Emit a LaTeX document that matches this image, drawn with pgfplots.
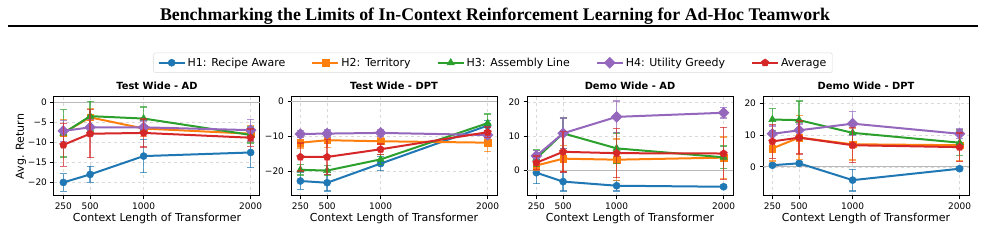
\documentclass[border=0pt]{standalone}
\usepackage{pgfplots}
\pgfplotsset{compat=1.18}
\usepackage{pgfplotstable}
\usepackage{fontspec}
\setmainfont{DejaVu Sans}
\newfontfamily\titlefont{Liberation Serif}

\definecolor{cH1}{HTML}{1F77B4}
\definecolor{cH2}{HTML}{FF7F0E}
\definecolor{cH3}{HTML}{2CA02C}
\definecolor{cH4}{HTML}{9467BD}
\definecolor{cAv}{HTML}{D62728}

% columns: context length, mean and error for each heuristic partner, then the average
\pgfplotstableread{
x    h1    e1   h2   e2   h3   e3   h4   e4   av    ea
250  -20.0 2.2 -7.6  3.4 -7.7  5.9 -7.1  2.6 -10.6  5.4
500  -18.0 2.0 -3.7  2.3 -3.4  3.7 -6.2  2.0  -7.8  6.0
1000 -13.4 4.2 -6.5  2.0 -4.0  2.9 -6.2  1.6  -7.6  3.5
2000 -12.5 3.8 -7.8  2.0 -8.1  2.0 -6.9  2.7  -8.8  2.2
}\testAD
\pgfplotstableread{
x    h1    e1   h2    e2   h3    e3   h4   e4   av    ea
250  -22.8 2.5 -11.8  1.5 -19.6  1.5 -9.3  1.0 -15.9  4.0
500  -23.3 2.4 -11.1  2.0 -19.8  1.5 -9.2  1.0 -15.9  5.0
1000 -17.8 2.0 -11.4  1.0 -16.6  1.5 -9.0  1.0 -13.7  1.5
2000  -6.9 1.5 -11.8  2.6  -6.2  2.6 -9.6  1.0  -8.8  1.5
}\testDPT
\pgfplotstableread{
x    h1   e1  h2  e2  h3   e3  h4   e4  av  ea
250  -0.7 3.2 1.4 1.5  3.5 2.4  4.2 1.5 2.2 2.0
500  -3.3 2.7 3.4 3.8 10.8 4.5 10.8 4.5 5.4 5.9
1000 -4.5 1.5 3.1 6.0  6.4 4.5 15.6 4.6 5.0 7.2
2000 -4.8 0.6 3.7 6.0  3.8 3.3 16.8 1.5 4.9 7.6
}\demoAD
\pgfplotstableread{
x    h1   e1  h2  e2  h3   e3  h4   e4  av  ea
250   0.5 0.5 5.8 4.0 14.9 3.5 10.4 2.5 8.0 5.4
500   1.1 0.5 9.2 7.0 14.7 6.0 11.5 2.0 9.2 5.2
1000 -4.2 3.4 7.1 5.0 10.7 3.5 13.6 3.8 6.8 5.5
2000 -0.6 0.5 6.8 5.0  7.6 4.0 10.4 1.5 6.2 4.5
}\demoDPT

\pgfplotsset{
  panel/.style={
    scale only axis, width=206pt, height=99pt,
    xmin=162.5, xmax=2087.5,
    xtick={250,500,1000,2000}, xticklabels={250,500,1000,2000},
    tick align=outside, tick pos=left, major tick length=3.5pt,
    tick style={black, line width=0.8pt},
    axis line style={line width=1pt},
    grid=major, grid style={dashed, gray!30, line width=0.5pt},
    ticklabel style={font=\fontsize{9}{10}\selectfont},
    xlabel={Context Length of Transformer},
    xlabel style={font=\fontsize{11}{12}\selectfont, at={(axis description cs:0.5,-0.222)}, anchor=center},
    every axis plot/.append style={line width=2pt},
    clip mode=individual,
  },
  zeroline/.style={gray!55, line width=1.2pt, forget plot},
  series/.style={color=#1, mark options={solid, fill=#1, draw=#1, line width=0.4pt}},
  ebars/.style={error bars/.cd, y dir=both, y explicit,
    error bar style={line width=1.3pt, draw=#1, opacity=0.7},
    error mark options={line width=1.3pt, draw=#1, mark size=3.5pt, opacity=0.7, rotate=90}},
  legend image code/.code={
    \draw[mark repeat=2, mark phase=2, #1] plot coordinates {(0pt,0pt) (13pt,0pt) (26pt,0pt)};},
}

% panel heading, set just above the frame
\newcommand{\panelhead}[1]{%
  \node[font=\bfseries\fontsize{9.9}{11}\selectfont, anchor=center]
    at (axis description cs:0.5,1.113) {#1};}

\newcommand{\allseries}[1]{%
  \addplot[zeroline] coordinates {(162.5,0) (2087.5,0)};
  \addplot[series=cH1, mark=*, mark size=3.6pt, ebars=cH1] table[x=x, y=h1, y error=e1] {#1};
  \addplot[series=cH2, mark=square*, mark size=3.3pt, ebars=cH2] table[x=x, y=h2, y error=e2] {#1};
  \addplot[series=cH3, mark=triangle*, mark size=4.3pt, ebars=cH3] table[x=x, y=h3, y error=e3] {#1};
  \addplot[series=cH4, mark=square*, mark size=3.1pt, mark options={rotate=45}, ebars=cH4] table[x=x, y=h4, y error=e4] {#1};
  \addplot[series=cAv, mark=pentagon*, mark size=3.9pt, ebars=cAv] table[x=x, y=av, y error=ea] {#1};
}

\begin{document}
\begin{tikzpicture}
\path[use as bounding box] (0,0) rectangle (985pt,243pt);

\node[font=\titlefont\bfseries\fontsize{17.8}{19}\selectfont] at (495pt,227pt)
  {Benchmarking the Limits of In-Context Reinforcement Learning for Ad-Hoc Teamwork};
\draw[line width=1.8pt] (8pt,217pt) -- (978pt,217pt);

\begin{axis}[panel, at={(54pt,47pt)}, anchor=south west,
  ymin=-23.4, ymax=1.4,
  ytick={-20,-15,-10,-5,0}, yticklabels={−20,−15,−10,−5,0},
  ylabel={Avg. Return},
  ylabel style={font=\fontsize{11}{12}\selectfont, at={(axis description cs:-0.16,0.5)}, anchor=center},
  legend columns=5,
  legend style={at={(axis description cs:2.131,1.346)}, anchor=center,
    draw=gray!30, rounded corners=2pt, font=\fontsize{11}{13}\selectfont,
    inner ysep=3pt, inner xsep=4pt,
    /tikz/every even column/.append style={column sep=24pt}},
]
\allseries{\testAD}
\legend{H1: Recipe Aware, H2: Territory, H3: Assembly Line, H4: Utility Greedy, Average}
\panelhead{Test Wide - AD}
\end{axis}

\begin{axis}[panel, at={(291pt,47pt)}, anchor=south west,
  ymin=-27.1, ymax=1.3,
  ytick={-20,-10,0}, yticklabels={−20,−10,0},
]
\allseries{\testDPT}
\panelhead{Test Wide - DPT}
\end{axis}

\begin{axis}[panel, at={(527pt,47pt)}, anchor=south west,
  ymin=-7.5, ymax=21.4,
  ytick={0,10,20}, yticklabels={0,10,20},
]
\allseries{\demoAD}
\panelhead{Demo Wide - AD}
\end{axis}

\begin{axis}[panel, at={(763pt,47pt)}, anchor=south west,
  ymin=-9.2, ymax=22,
  ytick={0,10,20}, yticklabels={0,10,20},
]
\allseries{\demoDPT}
\panelhead{Demo Wide - DPT}
\end{axis}
\end{tikzpicture}
\end{document}
